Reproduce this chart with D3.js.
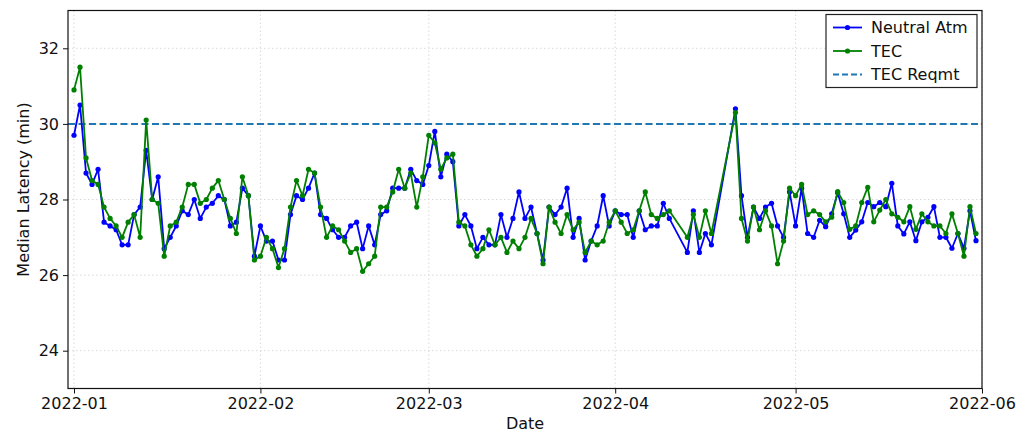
<!DOCTYPE html>
<html>
<head>
<meta charset="utf-8">
<script src="https://cdn.jsdelivr.net/npm/d3@7"></script>
<style>
  html, body { margin: 0; padding: 0; background: #fff; }
  svg { display: block; font-family: "DejaVu Sans", sans-serif; }
</style>
</head>
<body>
<svg id="chart" width="1030" height="432"></svg>
<script>
// ---------- data ----------
const dates = [
  "2022-01-01","2022-01-02","2022-01-03","2022-01-04","2022-01-05","2022-01-06","2022-01-07","2022-01-08","2022-01-09","2022-01-10",
  "2022-01-11","2022-01-12","2022-01-13","2022-01-14","2022-01-15","2022-01-16","2022-01-17","2022-01-18","2022-01-19","2022-01-20",
  "2022-01-21","2022-01-22","2022-01-23","2022-01-24","2022-01-25","2022-01-26","2022-01-27","2022-01-28","2022-01-29","2022-01-30","2022-01-31",
  "2022-02-01","2022-02-02","2022-02-03","2022-02-04","2022-02-05","2022-02-06","2022-02-07","2022-02-08","2022-02-09","2022-02-10",
  "2022-02-11","2022-02-12","2022-02-13","2022-02-14","2022-02-15","2022-02-16","2022-02-17","2022-02-18","2022-02-19","2022-02-20",
  "2022-02-21","2022-02-22","2022-02-23","2022-02-24","2022-02-25","2022-02-26","2022-02-27","2022-02-28",
  "2022-03-01","2022-03-02","2022-03-03","2022-03-04","2022-03-05","2022-03-06","2022-03-07","2022-03-08","2022-03-09","2022-03-10",
  "2022-03-11","2022-03-12","2022-03-13","2022-03-14","2022-03-15","2022-03-16","2022-03-17","2022-03-18","2022-03-19","2022-03-20",
  "2022-03-21","2022-03-22","2022-03-23","2022-03-24","2022-03-25","2022-03-26","2022-03-27","2022-03-28","2022-03-29","2022-03-30","2022-03-31",
  "2022-04-01","2022-04-02","2022-04-03","2022-04-04","2022-04-05","2022-04-06","2022-04-07","2022-04-08","2022-04-09","2022-04-10",
  "2022-04-13","2022-04-14","2022-04-15","2022-04-16","2022-04-17",
  "2022-04-21","2022-04-22","2022-04-23","2022-04-24","2022-04-25","2022-04-26","2022-04-27","2022-04-28","2022-04-29","2022-04-30",
  "2022-05-01","2022-05-02","2022-05-03","2022-05-04","2022-05-05","2022-05-06","2022-05-07","2022-05-08","2022-05-09","2022-05-10",
  "2022-05-11","2022-05-12","2022-05-13","2022-05-14","2022-05-15","2022-05-16","2022-05-17","2022-05-18","2022-05-19","2022-05-20",
  "2022-05-21","2022-05-22","2022-05-23","2022-05-24","2022-05-25","2022-05-26","2022-05-27","2022-05-28","2022-05-29","2022-05-30","2022-05-31"
];
const neutralAtm = [
  29.7,30.5,28.7,28.4,28.8,27.4,27.3,27.2,26.8,26.8,
  27.6,27.8,29.3,28.0,28.6,26.7,27.0,27.3,27.7,27.6,
  28.0,27.5,27.8,27.9,28.1,28.0,27.3,27.4,28.3,28.1,26.5,
  27.3,26.9,26.9,26.4,26.4,27.6,28.1,28.0,28.3,28.7,
  27.6,27.5,27.2,27.0,27.0,27.3,27.4,26.7,27.3,26.8,
  27.6,27.7,28.3,28.3,28.3,28.8,28.5,28.4,
  28.9,29.8,28.6,29.2,29.0,27.3,27.6,27.3,26.7,27.0,
  26.8,26.8,27.6,27.0,27.5,28.2,27.5,27.8,27.1,26.4,
  27.8,27.6,27.8,28.3,27.0,27.5,26.4,26.9,27.3,28.1,27.3,
  27.7,27.6,27.6,27.0,27.7,27.2,27.3,27.3,27.9,27.5,
  26.6,27.7,26.6,27.1,26.8,
  30.4,28.1,27.0,27.8,27.5,27.8,27.9,27.3,27.0,28.2,
  27.3,28.3,27.1,27.0,27.45,27.28,27.62,28.18,27.62,27.0,
  27.19,27.41,27.92,27.81,27.92,27.81,28.43,27.3,27.09,27.41,
  26.91,27.41,27.53,27.81,27.0,27.0,26.71,27.1,26.71,27.7,26.91
];
const tec = [
  30.9,31.5,29.1,28.5,28.4,27.8,27.5,27.3,27.0,27.4,
  27.6,27.0,30.1,28.0,27.9,26.5,27.3,27.4,27.8,28.4,
  28.4,27.9,28.0,28.3,28.5,28.0,27.5,27.1,28.6,28.1,26.4,
  26.5,27.0,26.7,26.2,26.7,27.8,28.5,28.1,28.8,28.7,
  27.8,27.0,27.3,27.2,26.9,26.6,26.7,26.1,26.3,26.5,
  27.8,27.8,28.2,28.8,28.3,28.7,27.8,28.6,
  29.7,29.5,28.8,29.1,29.2,27.4,27.3,26.8,26.5,26.7,
  27.2,26.8,27.0,26.6,26.9,26.7,27.0,27.5,27.1,26.3,
  27.8,27.4,27.1,27.6,27.2,27.4,26.6,26.9,26.8,26.9,27.4,
  27.7,27.4,27.1,27.2,27.7,28.2,27.6,27.5,27.6,27.7,
  27.0,27.6,27.0,27.7,27.1,
  30.3,27.5,26.9,27.8,27.2,27.7,27.3,26.3,26.9,28.3,
  28.1,28.4,27.6,27.7,27.6,27.41,27.53,28.21,27.92,27.21,
  27.3,27.92,28.32,27.41,27.72,28.0,27.62,27.53,27.41,27.81,
  27.21,27.62,27.41,27.3,27.3,27.1,27.62,27.1,26.5,27.81,27.1
];
const tecRequirement = 30;
const yTicks = [24, 26, 28, 30, 32];
const xTickDates = ["2022-01-01","2022-02-01","2022-03-01","2022-04-01","2022-05-01","2022-06-01"];
const xDomain = ["2021-12-31","2022-06-01"];
const yDomain = [23, 33];
const legendLabels = ["Neutral Atm", "TEC", "TEC Reqmt"];

(function () {
// ---------- layout ----------
const svg = d3.select("#chart");
const pL = 68, pR = 982, pT = 10.5, pB = 388.5;
const parse = d3.utcParse("%Y-%m-%d");

const x = d3.scaleUtc().domain(xDomain.map(parse)).range([pL, pR]);
const y = d3.scaleLinear().domain(yDomain).range([pB, pT]);

const fontSize = 16;

// grid
const grid = svg.append("g");
grid.selectAll("line.gy").data(yTicks).enter().append("line")
  .attr("x1", pL).attr("x2", pR)
  .attr("y1", d => y(d)).attr("y2", d => y(d))
  .attr("stroke", "#d0d0d0").attr("stroke-width", 0.8).attr("stroke-dasharray", "1.5,2.5");
grid.selectAll("line.gx").data(xTickDates.map(parse)).enter().append("line")
  .attr("x1", d => x(d)).attr("x2", d => x(d))
  .attr("y1", pT).attr("y2", pB)
  .attr("stroke", "#d0d0d0").attr("stroke-width", 0.8).attr("stroke-dasharray", "1.5,2.5");

// reference line
svg.append("line")
  .attr("x1", pL).attr("x2", pR)
  .attr("y1", y(tecRequirement)).attr("y2", y(tecRequirement))
  .attr("stroke", "#1f77b4").attr("stroke-width", 2).attr("stroke-dasharray", "7,3.5");

// series
const series = [
  {name: legendLabels[0], values: neutralAtm, color: "#0000ff"},
  {name: legendLabels[1], values: tec, color: "#008000"}
];
const line = d3.line().x(d => x(d.date)).y(d => y(d.v));
series.forEach(s => {
  const pts = dates.map((d, i) => ({date: parse(d), v: s.values[i]}));
  const g = svg.append("g");
  g.append("path").datum(pts)
    .attr("d", line).attr("fill", "none")
    .attr("stroke", s.color).attr("stroke-width", 1.8).attr("stroke-linejoin", "round");
  g.selectAll("circle").data(pts).enter().append("circle")
    .attr("cx", d => x(d.date)).attr("cy", d => y(d.v)).attr("r", 2.6)
    .attr("fill", s.color);
});

// axes
const xAxis = d3.axisBottom(x).tickValues(xTickDates.map(parse))
  .tickFormat(d3.utcFormat("%Y-%m")).tickSize(5).tickPadding(4);
const yAxis = d3.axisLeft(y).tickValues(yTicks).tickFormat(d3.format("d")).tickSize(5).tickPadding(4);

const gx = svg.append("g").attr("transform", `translate(0,${pB})`).call(xAxis);
const gy = svg.append("g").attr("transform", `translate(${pL},0)`).call(yAxis);
[gx, gy].forEach(g => {
  g.select(".domain").remove();
  g.selectAll("text").attr("font-size", fontSize).attr("fill", "#111").attr("font-family", "DejaVu Sans");
  g.selectAll("line").attr("stroke", "#111");
});

// frame
svg.append("rect")
  .attr("x", pL).attr("y", pT).attr("width", pR - pL).attr("height", pB - pT)
  .attr("fill", "none").attr("stroke", "#111").attr("stroke-width", 1.2);

// axis labels
svg.append("text").attr("x", (pL + pR) / 2).attr("y", 429)
  .attr("text-anchor", "middle").attr("font-size", fontSize).attr("fill", "#111").text("Date");
svg.append("text")
  .attr("transform", `translate(29,${(pT + pB) / 2 - 10}) rotate(-90)`)
  .attr("text-anchor", "middle").attr("font-size", fontSize).attr("fill", "#111")
  .text("Median Latency (min)");

// legend
const lg = svg.append("g");
lg.append("rect").attr("x", 826).attr("y", 14.5).attr("width", 151).attr("height", 73)
  .attr("fill", "#fff").attr("stroke", "#222").attr("stroke-width", 1.2);
const entries = [
  {label: legendLabels[0], color: "#0000ff", dash: null, marker: true},
  {label: legendLabels[1], color: "#008000", dash: null, marker: true},
  {label: legendLabels[2], color: "#1f77b4", dash: "6,3", marker: false}
];
entries.forEach((e, i) => {
  const yy = 27.5 + i * 23.5;
  lg.append("line").attr("x1", 833).attr("x2", 862).attr("y1", yy).attr("y2", yy)
    .attr("stroke", e.color).attr("stroke-width", e.marker ? 1.8 : 2)
    .attr("stroke-dasharray", e.dash);
  if (e.marker) lg.append("circle").attr("cx", 847.5).attr("cy", yy).attr("r", 2.6).attr("fill", e.color);
  lg.append("text").attr("x", 871).attr("y", yy + 5.5).attr("font-size", fontSize)
    .attr("fill", "#111").text(e.label);
});
})();
</script>
</body>
</html>
